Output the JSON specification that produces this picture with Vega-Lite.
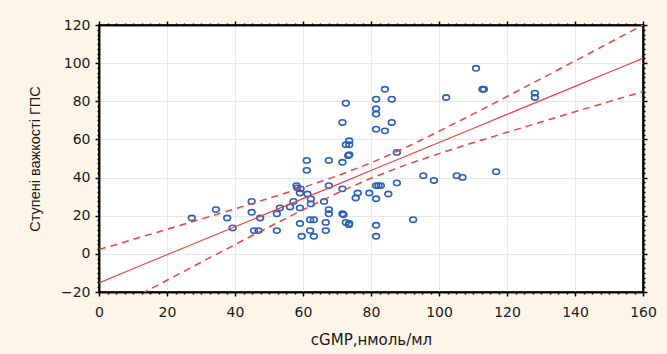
{
  "$schema": "https://vega.github.io/schema/vega-lite/v6.json",
  "autosize": "none",
  "width": 544,
  "height": 267,
  "padding": {"left": 99, "top": 25, "right": 24, "bottom": 62},
  "background": "#fdf5e8",
  "config": {
    "view": {"fill": "white", "stroke": "#000", "strokeWidth": 1.5},
    "axis": {
      "labelFont": "DejaVu Sans", "titleFont": "DejaVu Sans",
      "labelFontSize": 14, "titleFontSize": 15, "titleFontWeight": "normal",
      "labelColor": "#1a1a1a", "titleColor": "#1a1a1a",
      "domainColor": "#000", "domainWidth": 1.5, "tickColor": "#000", "tickWidth": 1.5
    }
  },
  "datasets": {
    "pts": [
      {"x": 27.3, "y": 18.8}, {"x": 34.4, "y": 23.2}, {"x": 37.7, "y": 18.8}, {"x": 39.3, "y": 13.6},
      {"x": 44.9, "y": 27.5}, {"x": 44.9, "y": 21.8}, {"x": 47.4, "y": 18.8}, {"x": 45.6, "y": 12.2},
      {"x": 46.9, "y": 12.2}, {"x": 52.3, "y": 21.0}, {"x": 52.3, "y": 12.2}, {"x": 53.2, "y": 24.1},
      {"x": 56.2, "y": 24.6}, {"x": 57.2, "y": 27.5}, {"x": 58.1, "y": 35.8}, {"x": 58.3, "y": 34.6},
      {"x": 59.3, "y": 34.1}, {"x": 59.1, "y": 31.9}, {"x": 59.1, "y": 24.1}, {"x": 59.1, "y": 15.9},
      {"x": 59.6, "y": 9.2}, {"x": 61.1, "y": 49.0}, {"x": 61.1, "y": 43.8}, {"x": 61.3, "y": 31.4},
      {"x": 62.3, "y": 28.8}, {"x": 62.3, "y": 26.2}, {"x": 62.1, "y": 17.9}, {"x": 63.2, "y": 17.9},
      {"x": 62.1, "y": 12.2}, {"x": 63.2, "y": 9.2}, {"x": 66.2, "y": 27.5}, {"x": 66.7, "y": 16.5},
      {"x": 66.7, "y": 12.2}, {"x": 67.6, "y": 49.0}, {"x": 67.6, "y": 35.8}, {"x": 67.6, "y": 23.2},
      {"x": 67.6, "y": 21.0}, {"x": 71.6, "y": 48.0}, {"x": 71.6, "y": 34.1}, {"x": 71.6, "y": 21.0},
      {"x": 71.9, "y": 20.5}, {"x": 72.6, "y": 16.5}, {"x": 73.5, "y": 15.3}, {"x": 73.6, "y": 15.9},
      {"x": 73.6, "y": 52.0}, {"x": 73.3, "y": 51.5}, {"x": 75.5, "y": 29.3}, {"x": 76.1, "y": 31.9},
      {"x": 79.5, "y": 31.9}, {"x": 87.6, "y": 53.2}, {"x": 95.4, "y": 41.0}, {"x": 98.5, "y": 38.5},
      {"x": 105.2, "y": 41.0}, {"x": 106.9, "y": 40.1}, {"x": 116.8, "y": 43.1}, {"x": 81.5, "y": 35.8},
      {"x": 82.2, "y": 35.8}, {"x": 82.9, "y": 35.8}, {"x": 81.5, "y": 28.9}, {"x": 85.1, "y": 31.4},
      {"x": 87.6, "y": 37.2}, {"x": 92.4, "y": 17.9}, {"x": 81.5, "y": 15.0}, {"x": 81.5, "y": 9.2},
      {"x": 84.1, "y": 86.3}, {"x": 81.5, "y": 81.1}, {"x": 86.1, "y": 81.1}, {"x": 81.5, "y": 76.1},
      {"x": 81.5, "y": 73.3}, {"x": 86.1, "y": 68.9}, {"x": 81.5, "y": 65.4}, {"x": 84.1, "y": 64.5},
      {"x": 102.1, "y": 82.0}, {"x": 110.9, "y": 97.3}, {"x": 112.8, "y": 86.3}, {"x": 113.2, "y": 86.3},
      {"x": 128.2, "y": 84.3}, {"x": 128.2, "y": 82.0}, {"x": 72.6, "y": 79.0}, {"x": 71.6, "y": 68.9},
      {"x": 73.6, "y": 59.3}, {"x": 72.6, "y": 57.2}, {"x": 73.6, "y": 57.2}
    ],
    "fit": [
      {"x": 0, "y": -15.2, "lo": -32.6, "hi": 2.24},
      {"x": 10, "y": -7.84, "lo": -23.22, "hi": 7.54},
      {"x": 20, "y": -0.48, "lo": -13.82, "hi": 12.86},
      {"x": 30, "y": 6.88, "lo": -4.46, "hi": 18.22},
      {"x": 40, "y": 14.24, "lo": 4.86, "hi": 23.62},
      {"x": 50, "y": 21.6, "lo": 14.08, "hi": 29.12},
      {"x": 60, "y": 28.96, "lo": 23.13, "hi": 34.79},
      {"x": 70, "y": 36.32, "lo": 31.79, "hi": 40.85},
      {"x": 80, "y": 43.68, "lo": 39.68, "hi": 47.68},
      {"x": 90, "y": 51.04, "lo": 46.51, "hi": 55.57},
      {"x": 100, "y": 58.4, "lo": 52.57, "hi": 64.23},
      {"x": 110, "y": 65.76, "lo": 58.24, "hi": 73.28},
      {"x": 120, "y": 73.12, "lo": 63.74, "hi": 82.5},
      {"x": 130, "y": 80.48, "lo": 69.14, "hi": 91.82},
      {"x": 140, "y": 87.84, "lo": 74.5, "hi": 101.18},
      {"x": 150, "y": 95.2, "lo": 79.82, "hi": 110.58},
      {"x": 160, "y": 102.56, "lo": 85.12, "hi": 120.0}
    ]
  },
  "resolve": {"axis": {"x": "independent", "y": "independent"}},
  "layer": [
    {
      "data": {"name": "pts"},
      "mark": {"type": "point", "shape": "M -1,0 A 1,0.78 0 1,1 1,0 A 1,0.78 0 1,1 -1,0 Z", "filled": false, "size": 46, "strokeWidth": 1.6, "color": "#2a62b8", "opacity": 1},
      "encoding": {
        "x": {"field": "x", "type": "quantitative", "scale": {"domain": [0, 160], "nice": false, "zero": false},
          "axis": {"orient": "bottom", "values": [0, 20, 40, 60, 80, 100, 120, 140, 160], "grid": true, "gridColor": "#e8e8e8", "gridWidth": 1,
            "tickSize": 4, "labelPadding": 9, "title": "cGMP,нмоль/мл", "titlePadding": 13, "labelFlush": false}},
        "y": {"field": "y", "type": "quantitative", "scale": {"domain": [-20, 120], "nice": false, "zero": false},
          "axis": {"orient": "left", "values": [-20, 0, 20, 40, 60, 80, 100, 120], "grid": true, "gridColor": "#e8e8e8", "gridWidth": 1,
            "tickSize": 4, "labelPadding": 5, "title": "Ступені важкості ГПС", "titleFont": "Liberation Sans", "titleFontSize": 14.5, "titlePadding": 18, "labelFlush": false}}
      }
    },
    {
      "data": {"name": "fit"},
      "mark": {"type": "line", "color": "#f04040", "strokeWidth": 1.2, "clip": true},
      "encoding": {
        "x": {"field": "x", "type": "quantitative", "axis": {"orient": "top", "values": [0, 20, 40, 60, 80, 100, 120, 140, 160], "labels": false, "grid": false, "tickSize": 4, "title": null}},
        "y": {"field": "y", "type": "quantitative", "axis": {"orient": "right", "values": [-20, 0, 20, 40, 60, 80, 100, 120], "labels": false, "grid": false, "tickSize": 4, "title": null}}
      }
    },
    {
      "data": {"name": "fit"},
      "mark": {"type": "line", "color": "#f04040", "strokeWidth": 1.5, "strokeDash": [7, 5], "clip": true},
      "encoding": {
        "x": {"field": "x", "type": "quantitative", "axis": {"orient": "bottom", "values": [2.5,5,7.5,10,12.5,15,17.5,22.5,25,27.5,30,32.5,35,37.5,42.5,45,47.5,50,52.5,55,57.5,62.5,65,67.5,70,72.5,75,77.5,82.5,85,87.5,90,92.5,95,97.5,102.5,105,107.5,110,112.5,115,117.5,122.5,125,127.5,130,132.5,135,137.5,142.5,145,147.5,150,152.5,155,157.5], "labels": false, "grid": false, "tickSize": 2, "title": null}},
        "y": {"field": "hi", "type": "quantitative", "axis": {"orient": "left", "values": [-17.5,-15,-12.5,-10,-7.5,-5,-2.5,2.5,5,7.5,10,12.5,15,17.5,22.5,25,27.5,30,32.5,35,37.5,42.5,45,47.5,50,52.5,55,57.5,62.5,65,67.5,70,72.5,75,77.5,82.5,85,87.5,90,92.5,95,97.5,102.5,105,107.5,110,112.5,115,117.5], "labels": false, "grid": false, "tickSize": 2, "title": null}}
      }
    },
    {
      "data": {"name": "fit"},
      "mark": {"type": "line", "color": "#f04040", "strokeWidth": 1.5, "strokeDash": [7, 5], "clip": true},
      "encoding": {
        "x": {"field": "x", "type": "quantitative", "axis": {"orient": "top", "values": [2.5,5,7.5,10,12.5,15,17.5,22.5,25,27.5,30,32.5,35,37.5,42.5,45,47.5,50,52.5,55,57.5,62.5,65,67.5,70,72.5,75,77.5,82.5,85,87.5,90,92.5,95,97.5,102.5,105,107.5,110,112.5,115,117.5,122.5,125,127.5,130,132.5,135,137.5,142.5,145,147.5,150,152.5,155,157.5], "labels": false, "grid": false, "tickSize": 2, "title": null}},
        "y": {"field": "lo", "type": "quantitative", "axis": {"orient": "right", "values": [-17.5,-15,-12.5,-10,-7.5,-5,-2.5,2.5,5,7.5,10,12.5,15,17.5,22.5,25,27.5,30,32.5,35,37.5,42.5,45,47.5,50,52.5,55,57.5,62.5,65,67.5,70,72.5,75,77.5,82.5,85,87.5,90,92.5,95,97.5,102.5,105,107.5,110,112.5,115,117.5], "labels": false, "grid": false, "tickSize": 2, "title": null}}
      }
    }
  ]
}
